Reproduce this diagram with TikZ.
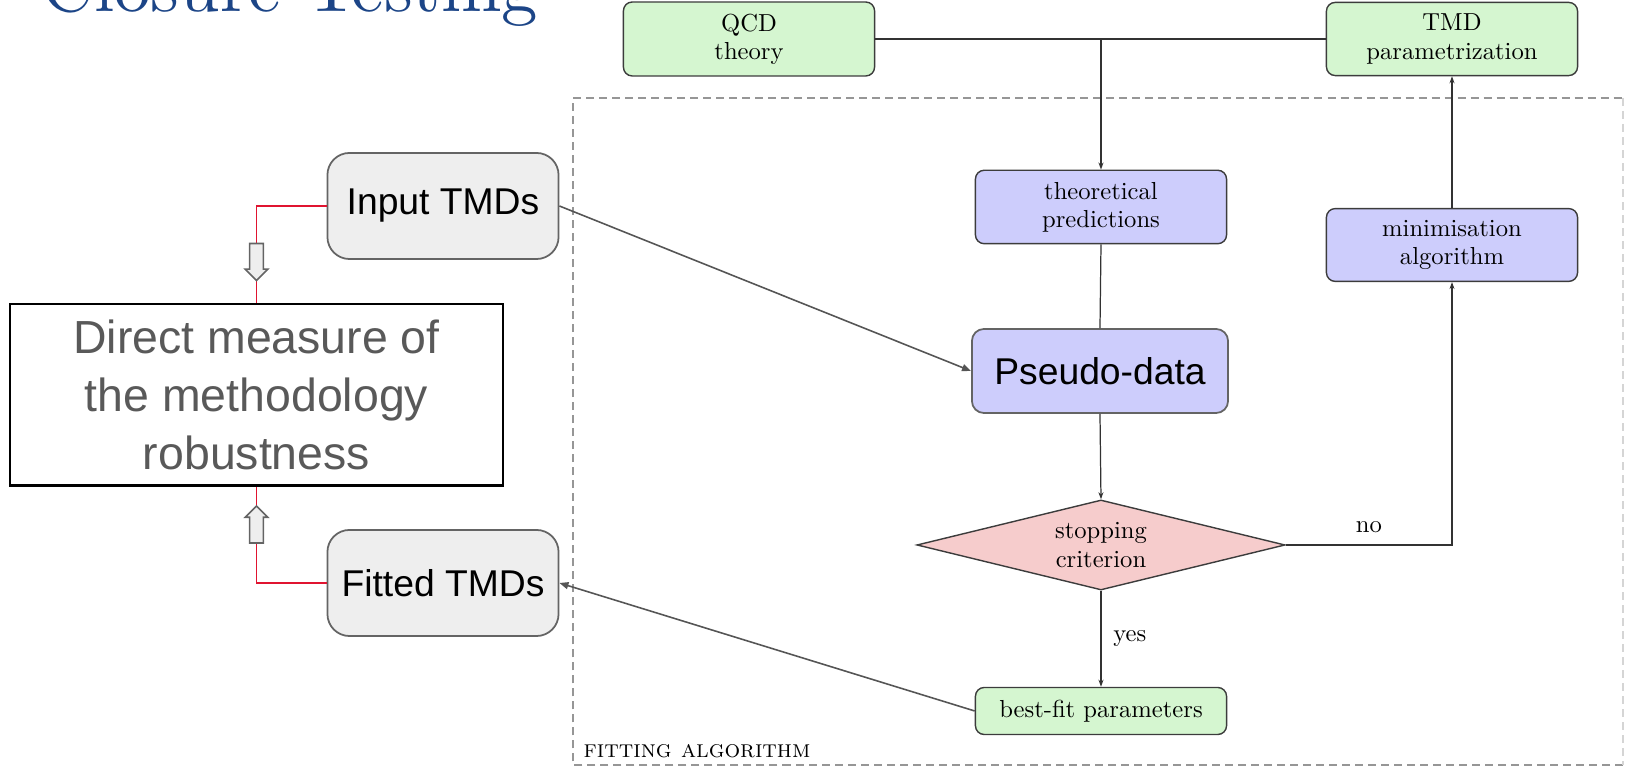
\documentclass[tikz,border=0pt]{standalone}
\usepackage{fontspec}
\setmainfont{lmroman10-regular.otf}[SmallCapsFont=lmromancaps10-regular.otf]
\newfontfamily\arial{Liberation Sans}
\usepackage{tikz}
\usetikzlibrary{shapes.geometric}
\usetikzlibrary{shapes.arrows}
\usetikzlibrary{arrows.meta}
\usepackage{xcolor}
\definecolor{gfill}{RGB}{213,246,208}
\definecolor{bfill}{RGB}{205,205,252}
\definecolor{rfill}{RGB}{246,204,204}
\definecolor{sfill}{RGB}{238,238,238}
\definecolor{bord}{RGB}{60,60,60}
\definecolor{sbord}{RGB}{100,100,100}
\definecolor{fline}{RGB}{50,50,50}
\definecolor{aline}{RGB}{85,85,85}
\definecolor{redl}{RGB}{224,20,48}
\definecolor{mgray}{RGB}{89,89,89}
\definecolor{dgray}{RGB}{150,150,150}
\definecolor{titleblue}{RGB}{28,69,135}

\begin{document}
\begin{tikzpicture}[x=0.01cm, y=-0.01cm, font=\fontsize{7}{8}\selectfont,
	g/.style	= {rectangle, rounded corners=2.5pt, draw=bord, fill=gfill, line width=0.4pt, minimum width=2.51cm, minimum height=0.68cm, align=center},
	b/.style	= {g, fill=bfill, minimum height=0.67cm},
	dia/.style	= {diamond, draw=bord, fill=rfill, line width=0.4pt, aspect=4, inner sep=0pt, minimum width=3.68cm, minimum height=0.9cm, align=center},
	sl/.style	= {rectangle, rounded corners=0.22cm, draw=sbord, fill=sfill, line width=0.5pt, minimum width=2.31cm, minimum height=1.06cm, font=\arial\fontsize{10.6}{12}\selectfont},
	pd/.style	= {sl, fill=bfill, rounded corners=0.12cm, minimum width=2.56cm, minimum height=0.84cm},
	dm/.style	= {rectangle, draw=black, line width=0.6pt, minimum width=4.93cm, minimum height=1.81cm, align=center, text=mgray, font=\arial\fontsize{13.2}{16.5}\selectfont},
	fl/.style	= {draw=fline, line width=0.35pt},
	r/.style	= {fl, -{Stealth[length=0.07cm, width=0.05cm]}},
	ga/.style	= {draw=aline, line width=0.45pt, -{Triangle[length=0.09cm, width=0.07cm]}},
	rl/.style	= {draw=redl, line width=0.55pt},
	ba/.style	= {single arrow, draw=sbord, fill=sfill, line width=0.45pt, inner xsep=0pt, inner ysep=0.06cm, minimum height=0.37cm, single arrow head extend=0.045cm, single arrow head indent=0pt},
	fr/.style	= {draw=dgray, line width=0.45pt, dash pattern=on 0.08cm off 0.05cm}
	]
	
	\useasboundingbox (0, 0) rectangle (1626, 768);
	\clip (0, 0) rectangle (1626, 768);
	
	%Nodes
	\node[anchor=base west, inner sep=0pt, text=titleblue, font=\fontsize{20.7}{24}\selectfont] (title) at (41, 12) {Closure Testing};
	
	\draw[fr] (1623, 765) -- (573, 765) -- (573, 98) -- (1623, 98);
	\draw[fr, draw=dgray!40] (1623, 98) -- (1623, 765);
	\node[anchor=base west, inner sep=0pt, font=\fontsize{7}{8}\selectfont] (fa) at (583, 758) {\textsc{fitting algorithm}};
	
	\node[g]	(qcd)	at	(749, 39)	{QCD\\theory};
	\node[g]	(tmd)	at	(1452, 39)	{TMD\\parametrization};
	\node[b]	(theo)	at	(1101, 207)	{theoretical\\predictions};
	\node[b]	(mini)	at	(1452, 245)	{minimisation\\algorithm};
	\node[pd]	(pd)	at	(1100, 371)	{Pseudo-data};
	\node[dia]	(stop)	at	(1101, 545)	{stopping\\criterion};
	\node[g, minimum height=0.47cm]	(best)	at	(1101, 711)	{best-fit parameters};
	
	\node[sl]	(inp)	at	(443, 206)	{Input TMDs};
	\node[sl]	(fit)	at	(443, 583)	{Fitted TMDs};
	\node[dm]	(dm)	at	(256.5, 395)	{Direct measure of\\the methodology\\robustness};
	
	%Lines
	\draw[fl]	(qcd.east)		--	(tmd.west);
	\draw[r]	(qcd.east -| theo.north)	--	(theo.north);
	\draw[fl]	(theo.south)	--	(pd.north);
	\draw[r]	(pd.south)		--	(stop.north);
	\draw[r]	(stop.east)		-|	node[above, pos=0.25]	{no}	(mini.south);
	\draw[r]	(mini.north)	--	(tmd.south);
	\draw[r]	(stop.south)	--	node[right]	{yes}	(best.north);
	
	\draw[ga]	(inp.east)		--	(pd.west);
	\draw[ga]	(best.west)		--	(fit.east);
	
	\draw[rl]	(inp.west)	-|	node[ba, rotate=-90, pos=0.77]	(adown)	{}	(dm.north);
	\draw[rl]	(fit.west)	-|	node[ba, rotate=90, pos=0.786]	(aup)	{}	(dm.south);
	
\end{tikzpicture}
\end{document}
